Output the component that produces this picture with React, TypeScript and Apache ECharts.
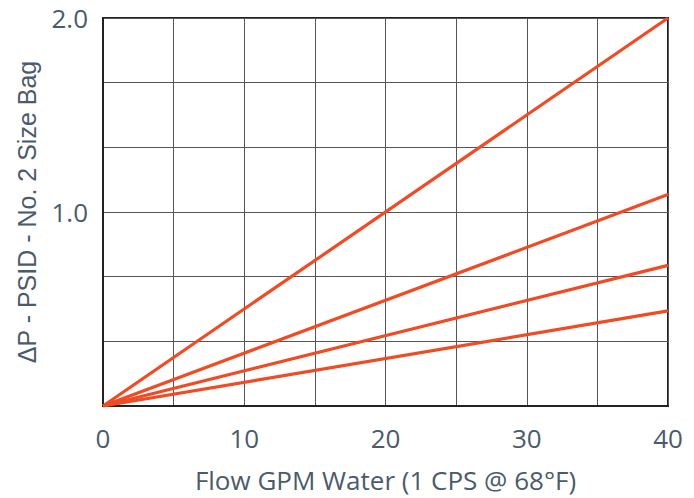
import React, { useEffect, useRef } from "react";
import * as echarts from "echarts";

const flowGpm = [0, 40];
const bagCurveA = [0, 2.0];
const bagCurveB = [0, 1.09];
const bagCurveC = [0, 0.725];
const bagCurveD = [0, 0.49];
const xTicks = [0, 10, 20, 30, 40];
const yLabelled = [1.0, 2.0];

const LINE_COLOR = "#f04b24";
const TEXT_COLOR = "#4b5b6b";

export default function App() {
  const ref = useRef<HTMLDivElement>(null);
  useEffect(() => {
    if (!ref.current) return;
    const chart = echarts.init(ref.current, undefined, { renderer: "svg" });
    const mk = (vals: number[]) => flowGpm.map((x, i) => [x, vals[i]]);
    chart.setOption({
      animation: false,
      grid: {
        left: 103,
        width: 565,
        top: 18,
        height: 391,
        show: true,
        borderColor: "#222",
        borderWidth: 2,
        backgroundColor: "transparent",
      },
      xAxis: {
        type: "value",
        min: 0,
        max: 40,
        interval: 5,
        name: "Flow GPM Water (1 CPS @ 68°F)",
        nameLocation: "middle",
        nameGap: 61,
        nameTextStyle: { color: TEXT_COLOR, fontSize: 26, fontFamily: "Open Sans" },
        axisLine: { show: true, lineStyle: { color: "#222", width: 2 } },
        axisTick: { show: false },
        splitLine: { show: true, lineStyle: { color: "#555", width: 1 } },
        axisLabel: {
          color: TEXT_COLOR,
          fontSize: 26,
          fontFamily: "Open Sans",
          margin: 19,
          formatter: (v: number) => (xTicks.includes(v) ? String(v) : ""),
        },
      },
      yAxis: {
        type: "value",
        min: 0,
        max: 2,
        interval: 1 / 3,
        name: "ΔP - PSID - No. 2 Size Bag",
        nameLocation: "middle",
        nameGap: 64,
        nameTextStyle: { color: TEXT_COLOR, fontSize: 25, fontFamily: "Liberation Sans" },
        axisLine: { show: true, lineStyle: { color: "#222", width: 2 } },
        axisTick: { show: false },
        splitLine: { show: true, lineStyle: { color: "#555", width: 1 } },
        axisLabel: {
          color: TEXT_COLOR,
          fontSize: 26,
          fontFamily: "Open Sans",
          margin: 15,
          formatter: (v: number) => {
            const m = yLabelled.find((t) => Math.abs(t - v) < 1e-6);
            return m !== undefined ? m.toFixed(1) : "";
          },
        },
      },
      series: [bagCurveA, bagCurveB, bagCurveC, bagCurveD].map((vals) => ({
        type: "line",
        data: mk(vals),
        showSymbol: false,
        lineStyle: { color: LINE_COLOR, width: 3.2 },
      })),
    });
    return () => chart.dispose();
  }, []);
  return (
    <div
      ref={ref}
      style={{ position: "fixed", left: 0, top: 0, width: 694, height: 498, background: "#fff" }}
    />
  );
}
